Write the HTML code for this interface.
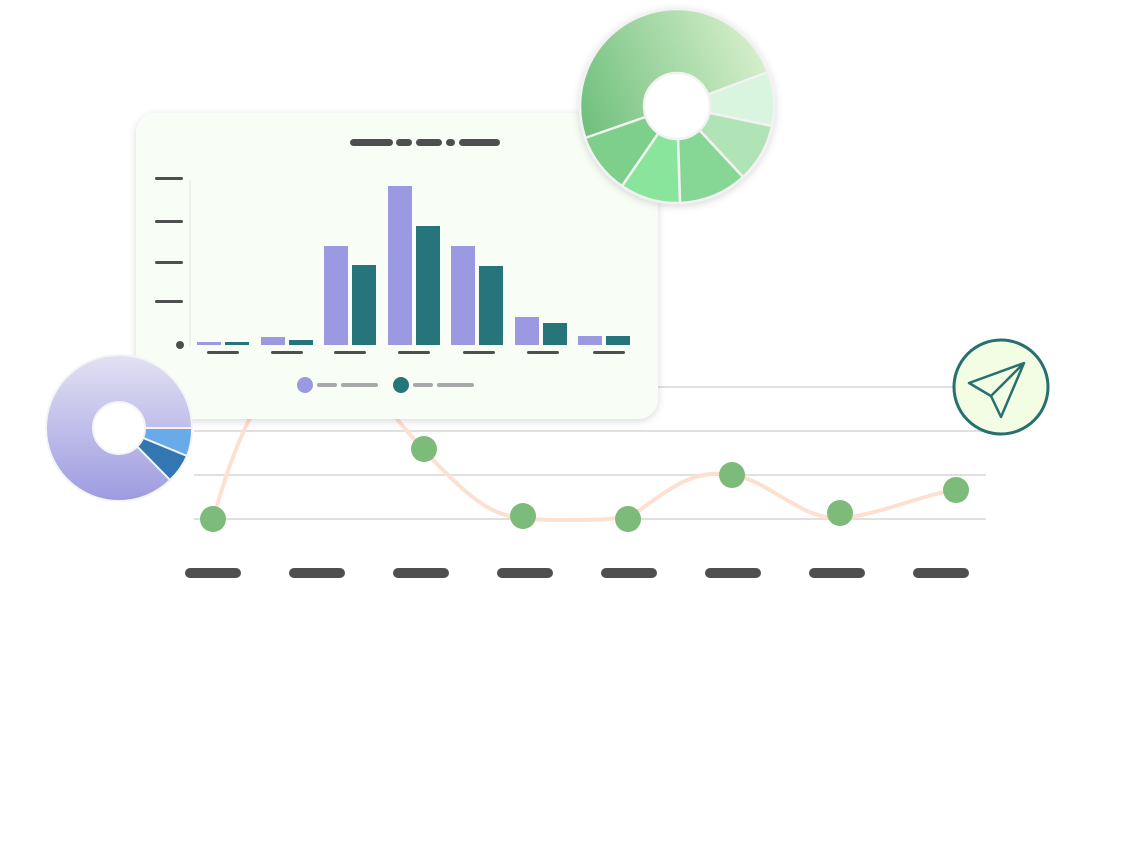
<!DOCTYPE html>
<html><head><meta charset="utf-8"><style>
body{margin:0;background:#fff;width:1138px;height:863px;overflow:hidden;font-family:"Liberation Sans",sans-serif}
</style></head><body>
<svg width="1138" height="863" viewBox="0 0 1138 863" xmlns="http://www.w3.org/2000/svg">
<defs>
<linearGradient id="gg" x1="0" y1="0.6" x2="1" y2="0.2"><stop offset="0" stop-color="#6fbf7c"/><stop offset="1" stop-color="#dcf2d0"/></linearGradient>
<linearGradient id="pg" x1="0" y1="0" x2="0" y2="1"><stop offset="0" stop-color="#e3e1f3"/><stop offset="1" stop-color="#9d9be0"/></linearGradient>
<filter id="sh" x="-20%" y="-20%" width="140%" height="140%"><feDropShadow dx="0" dy="2" stdDeviation="4" flood-color="#000" flood-opacity="0.15"/></filter>
</defs>
<!-- grid -->
<g stroke="#e0e0e0" stroke-width="2">
<line x1="194" y1="387" x2="986" y2="387"/><line x1="194" y1="431" x2="986" y2="431"/>
<line x1="194" y1="475" x2="986" y2="475"/><line x1="194" y1="519" x2="986" y2="519"/>
</g>
<path d="M213,519 C230,460 245,420 270,385 L390,410 C405,430 440,470 470,495 C495,515 510,520 560,520 C610,520 620,520 640,510 C680,480 700,470 732,475 C770,480 800,520 840,518 C880,515 920,495 956,490" fill="none" stroke="#fde0cf" stroke-width="4"/>
<g fill="#7dbb7b">
<circle cx="213" cy="519" r="13"/><circle cx="424" cy="449" r="13"/><circle cx="523" cy="516" r="13"/>
<circle cx="628" cy="519" r="13"/><circle cx="732" cy="475" r="13"/><circle cx="840" cy="513" r="13"/><circle cx="956" cy="490" r="13"/>
</g>
<g fill="#4f4f4f">
<rect x="185" y="568" width="56" height="10" rx="5"/><rect x="289" y="568" width="56" height="10" rx="5"/>
<rect x="393" y="568" width="56" height="10" rx="5"/><rect x="497" y="568" width="56" height="10" rx="5"/>
<rect x="601" y="568" width="56" height="10" rx="5"/><rect x="705" y="568" width="56" height="10" rx="5"/>
<rect x="809" y="568" width="56" height="10" rx="5"/><rect x="913" y="568" width="56" height="10" rx="5"/>
</g>
<!-- card -->
<rect x="136" y="113" width="522" height="306" rx="20" fill="#f8fdf6" filter="url(#sh)"/>
<g fill="#4f4f4f">
<rect x="350" y="139" width="43" height="7" rx="3.5"/><rect x="396" y="139" width="16" height="7" rx="3.5"/>
<rect x="416" y="139" width="26" height="7" rx="3.5"/><rect x="446" y="139" width="9" height="7" rx="3.5"/>
<rect x="459" y="139" width="41" height="7" rx="3.5"/>
<rect x="155" y="177" width="28" height="3" rx="1.5"/><rect x="155" y="220" width="28" height="3" rx="1.5"/>
<rect x="155" y="261" width="28" height="3" rx="1.5"/><rect x="155" y="300" width="28" height="3" rx="1.5"/>
<circle cx="180" cy="345" r="4"/>
</g>
<line x1="190" y1="180" x2="190" y2="346" stroke="#eef0ee" stroke-width="2"/>
<g fill="#9b99e1">
<rect x="197" y="342" width="24" height="3"/><rect x="261" y="337" width="24" height="8"/><rect x="324" y="246" width="24" height="99"/>
<rect x="388" y="186" width="24" height="159"/><rect x="451" y="246" width="24" height="99"/><rect x="515" y="317" width="24" height="28"/><rect x="578" y="336" width="24" height="9"/>
</g>
<g fill="#26757a">
<rect x="225" y="342" width="24" height="3"/><rect x="289" y="340" width="24" height="5"/><rect x="352" y="265" width="24" height="80"/>
<rect x="416" y="226" width="24" height="119"/><rect x="479" y="266" width="24" height="79"/><rect x="543" y="323" width="24" height="22"/><rect x="606" y="336" width="24" height="9"/>
</g>
<g fill="#4f4f4f">
<rect x="207" y="351" width="32" height="3" rx="1.5"/><rect x="271" y="351" width="32" height="3" rx="1.5"/><rect x="334" y="351" width="32" height="3" rx="1.5"/>
<rect x="398" y="351" width="32" height="3" rx="1.5"/><rect x="463" y="351" width="32" height="3" rx="1.5"/><rect x="527" y="351" width="32" height="3" rx="1.5"/><rect x="593" y="351" width="32" height="3" rx="1.5"/>
</g>
<circle cx="305" cy="385" r="8" fill="#9b99e1"/><rect x="317" y="383" width="20" height="4" rx="2" fill="#a8a8a8"/><rect x="341" y="383" width="37" height="4" rx="2" fill="#a8a8a8"/>
<circle cx="401" cy="385" r="8" fill="#26757a"/><rect x="413" y="383" width="20" height="4" rx="2" fill="#a8a8a8"/><rect x="437" y="383" width="37" height="4" rx="2" fill="#a8a8a8"/>
<!-- green donut -->
<g transform="translate(677,106)" filter="url(#sh)" stroke="#f2f2f2" stroke-width="2.5">
<circle r="97" fill="url(#gg)"/>
<path d="M0,0 L91,-34 A97,97 0 0 1 95,20 Z" fill="#d9f5df"/>
<path d="M0,0 L95,20 A97,97 0 0 1 66,71 Z" fill="#b0e4b6"/>
<path d="M0,0 L66,71 A97,97 0 0 1 3,97 Z" fill="#86d796"/>
<path d="M0,0 L3,97 A97,97 0 0 1 -55,80 Z" fill="#8ae59c"/>
<path d="M0,0 L-55,80 A97,97 0 0 1 -92,32 Z" fill="#7dcf8b"/>
<circle r="33" fill="#fff"/>
</g>
<!-- purple donut -->
<g transform="translate(119,428)" stroke="#f4f4f4" stroke-width="2">
<circle r="73" fill="url(#pg)"/>
<path d="M0,0 L73,0 A73,73 0 0 1 68,28 Z" fill="#69aae8"/>
<path d="M0,0 L68,28 A73,73 0 0 1 51,52 Z" fill="#3276b2"/>
<circle r="26" fill="#fff"/>
</g>
<!-- send icon -->
<circle cx="1001" cy="387" r="47" fill="#f2fde4" stroke="#26706f" stroke-width="3"/>
<path d="M969,383 L1024,363 L1001,417 L991,396 Z M991,396 L1024,363" fill="none" stroke="#26706f" stroke-width="2.5" stroke-linejoin="round"/>
</svg>
</body></html>
